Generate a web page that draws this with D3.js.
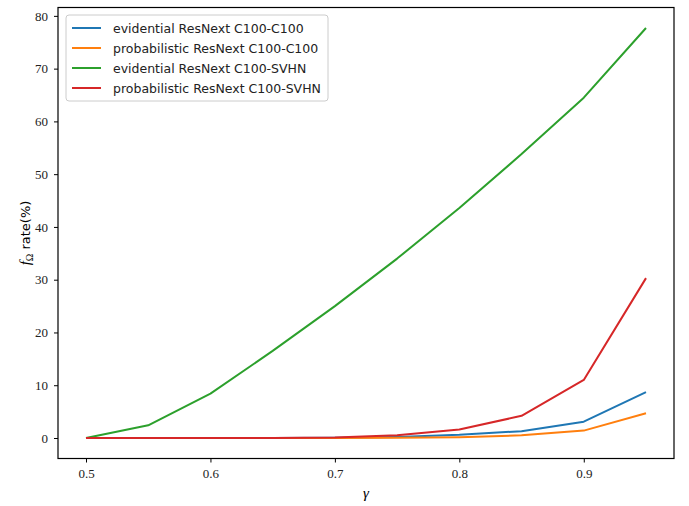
<!DOCTYPE html>
<html><head><meta charset="utf-8">
<script src="https://cdn.jsdelivr.net/npm/d3@7"></script>
<style>body{margin:0;background:#fff}svg{display:block}</style>
</head><body>
<svg id="c" width="689" height="506"></svg>
<script>
const gammas = [0.5,0.55,0.6,0.65,0.7,0.75,0.8,0.85,0.9,0.95];
const evidentialC100 = [0,0,0,0,0.05,0.2,0.6,1.3,3.1,8.7];
const probabilisticC100 = [0,0,0,0,0,0.05,0.15,0.5,1.4,4.7];
const evidentialSVHN = [0,2.4,8.4,16.5,25.0,34.0,43.6,53.8,64.5,77.7];
const probabilisticSVHN = [0,0,0,0,0.1,0.5,1.6,4.2,11.0,30.3];
const seriesNames = ["evidential ResNext C100-C100","probabilistic ResNext C100-C100","evidential ResNext C100-SVHN","probabilistic ResNext C100-SVHN"];
const colors = ["#1f77b4","#ff7f0e","#2ca02c","#d62728"];
const xTicks = [0.5,0.6,0.7,0.8,0.9];
const yTicks = [0,10,20,30,40,50,60,70,80];

const allSeries = [evidentialC100, probabilisticC100, evidentialSVHN, probabilisticSVHN];
const svg = d3.select("#c");
const L = 58, R = 674, T = 7.5, B = 458.5;
const x = d3.scaleLinear().domain([0.4775, 0.9725]).range([L, R]);
const y = d3.scaleLinear().domain([-3.885, 81.585]).range([B, T]);

const serif = "'Liberation Serif','DejaVu Serif',serif";
const sans = "'DejaVu Sans','Noto Sans',sans-serif";

const xa = svg.append("g").attr("transform", `translate(0,${B})`)
  .call(d3.axisBottom(x).tickValues(xTicks).tickFormat(d3.format(".1f")).tickSize(4).tickPadding(6));
const ya = svg.append("g").attr("transform", `translate(${L},0)`)
  .call(d3.axisLeft(y).tickValues(yTicks).tickFormat(d3.format("d")).tickSize(4).tickPadding(6));
[xa, ya].forEach(a => {
  a.select(".domain").remove();
  a.selectAll("line").attr("stroke","#000").attr("stroke-width",1);
  a.selectAll("text").attr("font-family", serif).attr("font-size", 13).attr("fill","#222");
});

const line = d3.line().x((d,i)=>x(gammas[i])).y(d=>y(d));
allSeries.forEach((s,k)=>{
  svg.append("path").datum(s).attr("d", line).attr("fill","none")
    .attr("stroke", colors[k]).attr("stroke-width", 2).attr("stroke-linejoin","round");
});

svg.append("rect").attr("x",L).attr("y",T).attr("width",R-L).attr("height",B-T)
  .attr("fill","none").attr("stroke","#000").attr("stroke-width",1.2);

// legend
const lg = svg.append("g");
lg.append("rect").attr("x",66).attr("y",15).attr("width",262).attr("height",86)
  .attr("rx",3).attr("fill","#fff").attr("fill-opacity",0.8).attr("stroke","#ccc");
seriesNames.forEach((n,k)=>{
  const yy = 28 + k*20;
  lg.append("line").attr("x1",72).attr("x2",101).attr("y1",yy).attr("y2",yy)
    .attr("stroke",colors[k]).attr("stroke-width",2);
  lg.append("text").attr("x",113).attr("y",yy+4.5).text(n)
    .attr("font-family",sans).attr("font-size",12.5).attr("fill","#222");
});

// axis labels
svg.append("text").attr("x",366).attr("y",498).attr("text-anchor","middle")
  .attr("font-family",serif).attr("font-style","italic").attr("font-size",15).text("γ");
const yl = svg.append("text").attr("transform","translate(30,233) rotate(-90)")
  .attr("text-anchor","middle").attr("font-size",13);
yl.append("tspan").attr("font-family",serif).attr("font-style","italic").attr("font-size",15).text("f");
yl.append("tspan").attr("font-family",serif).attr("font-size",10).attr("dy",3).text("Ω");
yl.append("tspan").attr("font-family",sans).attr("dy",-3).text(" rate(%)");
</script>
</body></html>
